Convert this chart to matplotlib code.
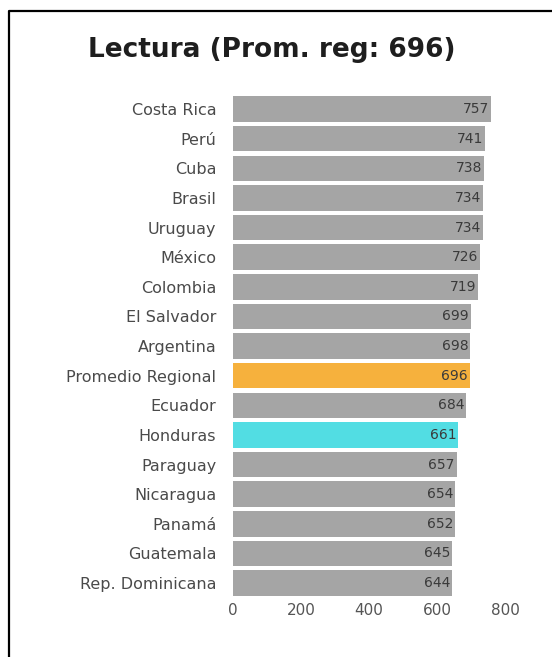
import matplotlib
matplotlib.use("Agg")
import matplotlib.pyplot as plt
from matplotlib.lines import Line2D

# data (top to bottom)
paises = ["Costa Rica", "Perú", "Cuba", "Brasil", "Uruguay", "México", "Colombia",
          "El Salvador", "Argentina", "Promedio Regional", "Ecuador", "Honduras",
          "Paraguay", "Nicaragua", "Panamá", "Guatemala", "Rep. Dominicana"]
puntajes = [757, 741, 738, 734, 734, 726, 719, 699, 698, 696, 684, 661,
            657, 654, 652, 645, 644]
ticks_x = [0, 200, 400, 600, 800]

gris = "#a5a5a5"
colores = []
for p in paises:
    if p == "Promedio Regional":
        colores.append("#f6b13d")
    elif p == "Honduras":
        colores.append("#52dde3")
    else:
        colores.append(gris)

plt.rcParams["font.family"] = ["DejaVu Sans"]

fig = plt.figure(figsize=(5.52, 6.57), dpi=100)
ax = fig.add_axes([0.422, 0.090, 0.524, 0.7666])

pos = list(range(len(paises)))
ax.barh(pos, puntajes, height=0.86, color=colores)
ax.set_ylim(len(paises) - 0.5, -0.5)
ax.set_xlim(0, 850)

# value labels inside the end of each bar
for y, v in zip(pos, puntajes):
    ax.text(v - 5, y, str(v), ha="right", va="center", fontsize=10, color="#3a3a3a")

ax.set_yticks(pos)
ax.set_yticklabels(paises, fontsize=11.5, color="#4a4a4a")
ax.set_xticks(ticks_x)
ax.set_xticklabels([str(t) for t in ticks_x], fontsize=11, color="#555555")
ax.tick_params(axis="both", length=0)
ax.tick_params(axis="y", pad=12)
ax.tick_params(axis="x", pad=4)
for s in ax.spines.values():
    s.set_visible(False)

fig.text(0.493, 1 - 50 / 657, "Lectura (Prom. reg: 696)", ha="center", va="center",
         fontsize=19, fontweight="bold", color="#1e1e1e")

# partial frame visible on the top and left of the picture
xb = 8.5 / 552
yb = 1 - 11 / 657
fig.add_artist(Line2D([xb, xb, 1.0], [0.0, yb, yb], transform=fig.transFigure,
                      color="black", linewidth=1.6))

fig.savefig("out.png", dpi=100, facecolor="white")
